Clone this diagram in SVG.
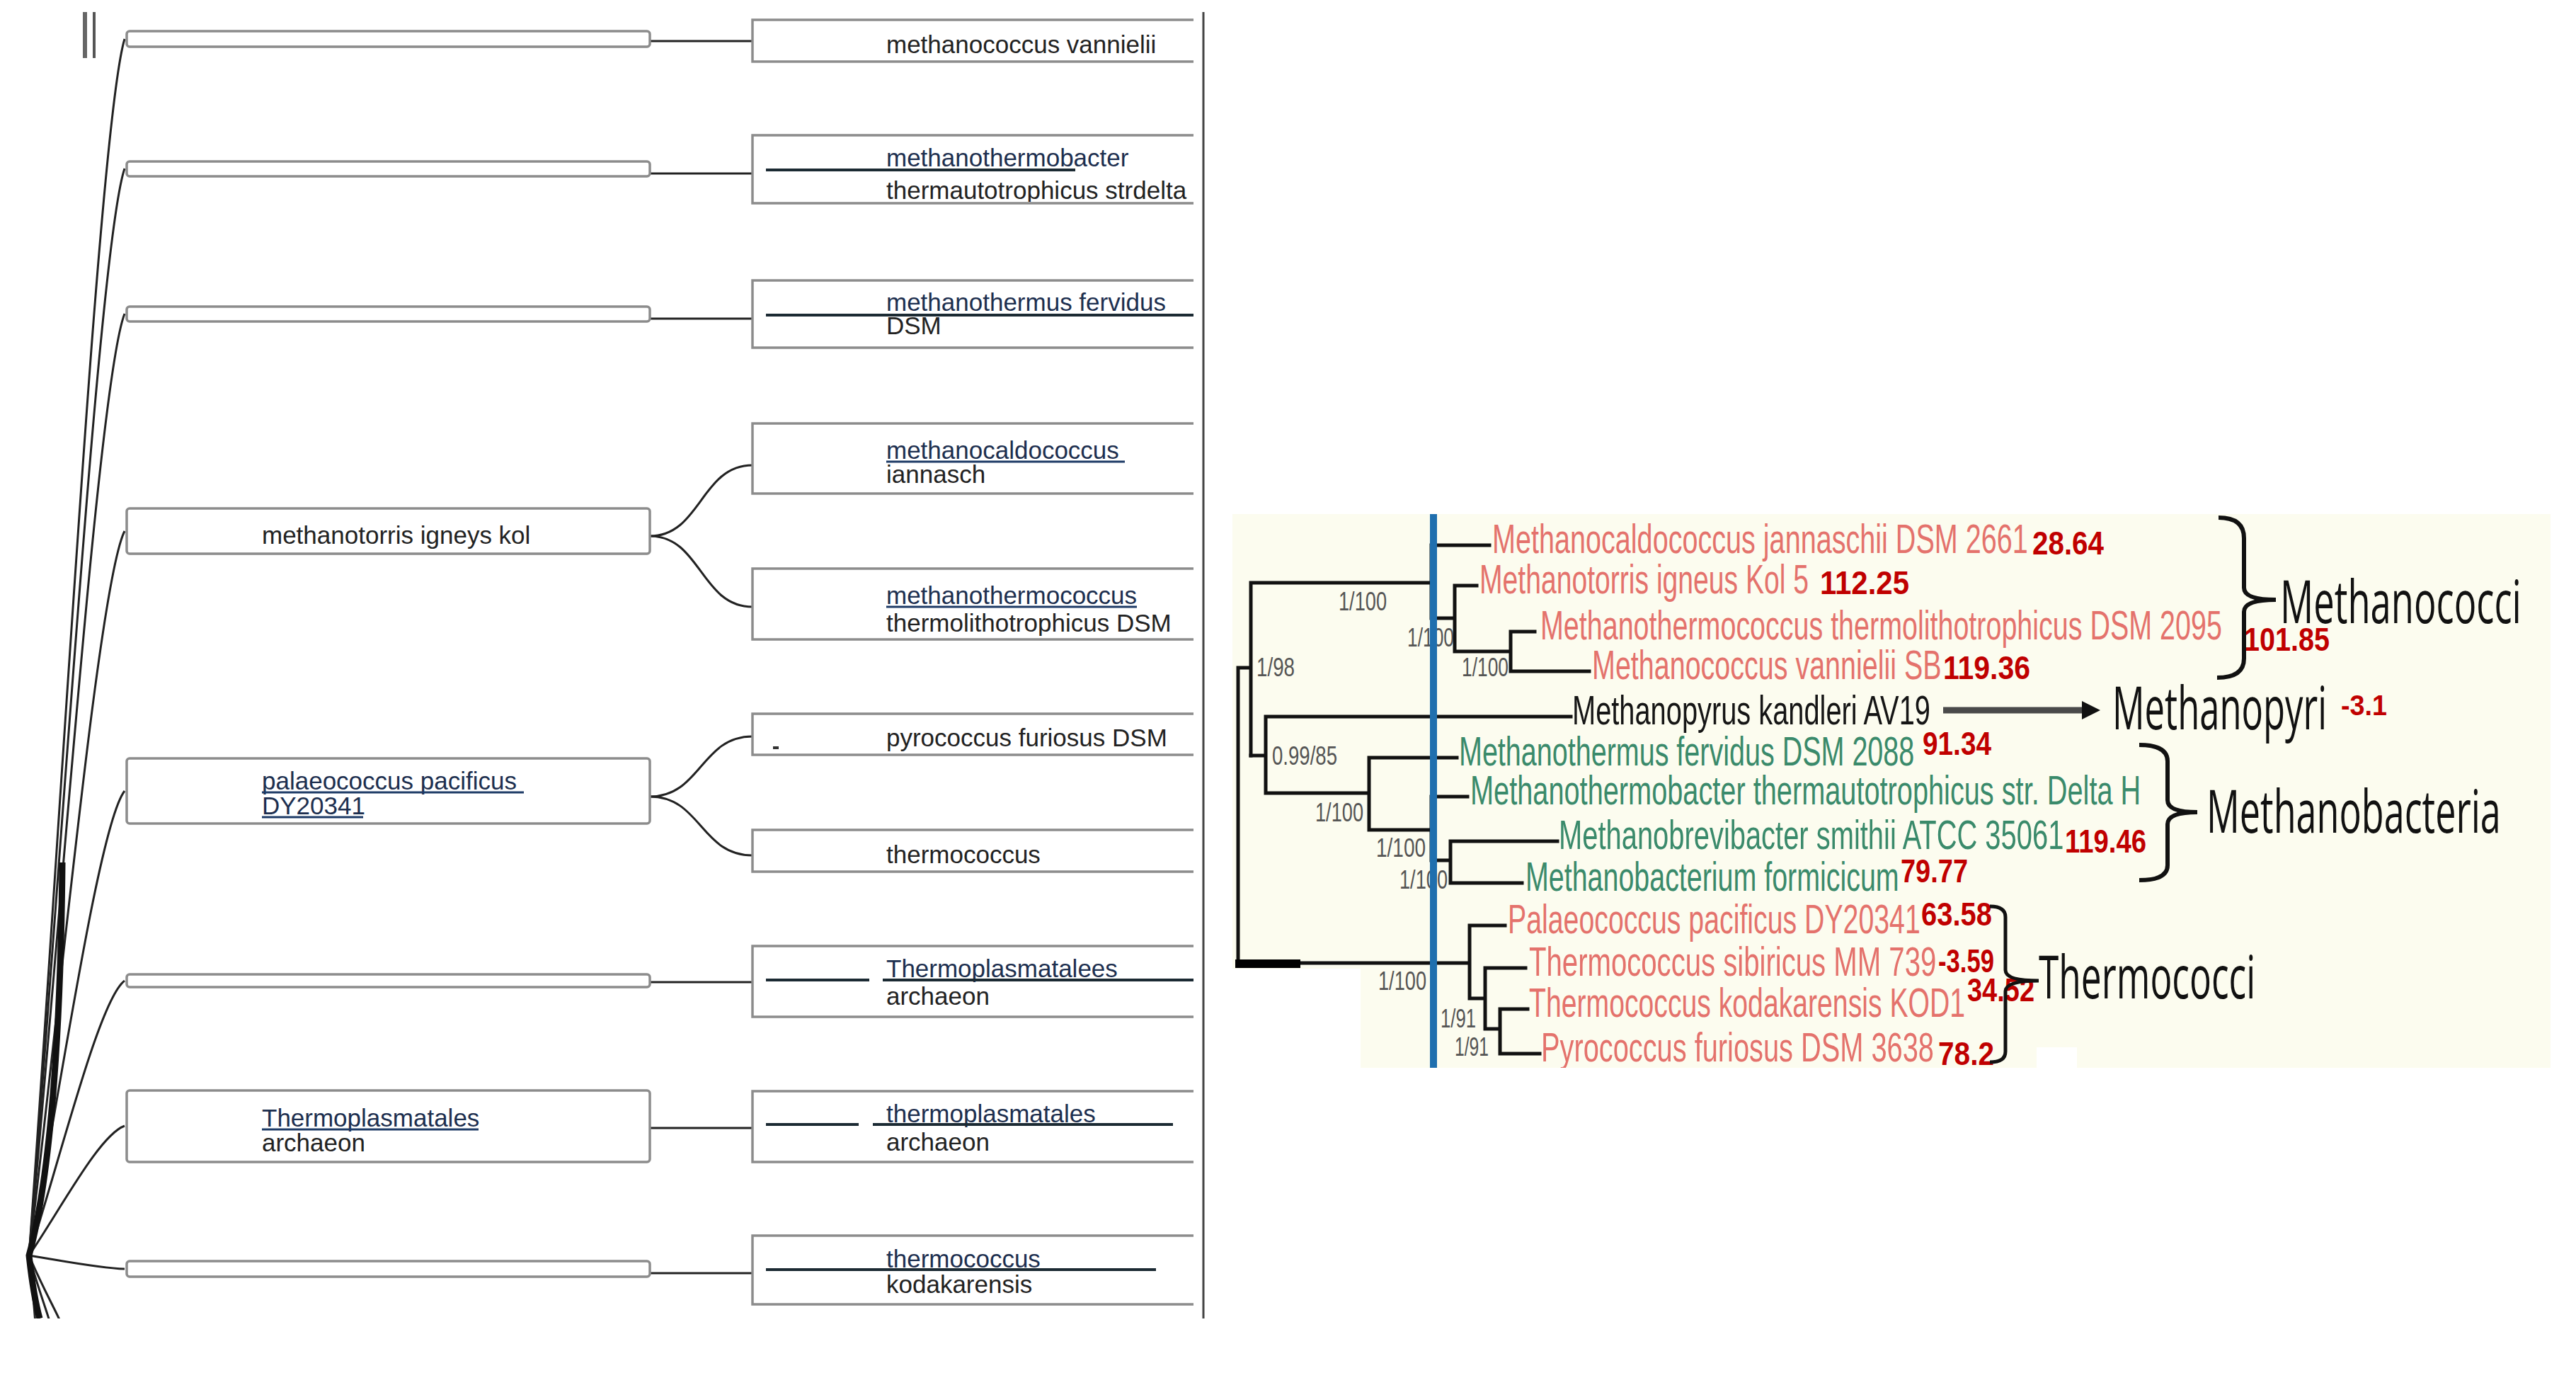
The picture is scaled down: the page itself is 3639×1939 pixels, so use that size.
<svg xmlns="http://www.w3.org/2000/svg" width="3639" height="1939" viewBox="0 0 3639 1939">
<defs>
<style>
.lbox{fill:#fff;stroke:#8c8c8c;stroke-width:3.5}
.rbox{fill:#fff;stroke:#8c8c8c;stroke-width:3.5}
.t{font-family:"Liberation Sans",Arial,sans-serif;font-size:35px;fill:#222}
.tu{font-family:"Liberation Sans",Arial,sans-serif;font-size:35px;fill:#1d2f4f}
.ul{stroke:#1d3a66;stroke-width:3}
.bar{stroke:#1b2a33;stroke-width:4}
.lnk{fill:none;stroke:#222;stroke-width:3}
.br{fill:none;stroke:#111;stroke-width:5;stroke-linecap:square}
.sp{font-family:"Liberation Sans",Arial,sans-serif;font-size:58px}
.red{fill:#e4726c}
.grn{fill:#3a8a6b}
.blk{fill:#151515}
.num{font-family:"Liberation Sans",Arial,sans-serif;font-weight:bold;font-size:46px;fill:#c00000}
.sup{font-family:"Liberation Sans",Arial,sans-serif;font-size:36px;fill:#555}
.grp{font-family:"Open Sans","Noto Sans",sans-serif;font-size:84px;fill:#111}
.brk{fill:none;stroke:#111;stroke-width:6}
</style>
<clipPath id="cR2"><rect x="1063" y="190" width="623" height="95"/></clipPath>
<clipPath id="cR5"><rect x="1063" y="803" width="623" height="95"/></clipPath>
<clipPath id="cLeft"><rect x="0" y="0" width="1710" height="1862"/></clipPath>
<clipPath id="cPanel"><rect x="1741" y="726" width="1862" height="782"/></clipPath>
<marker id="ah" markerWidth="26" markerHeight="26" refX="4" refY="13" orient="auto" markerUnits="userSpaceOnUse" viewBox="0 0 26 26"><path d="M0 0 L26 13 L0 26 Z" fill="#111"/></marker>
</defs>
<rect width="3639" height="1939" fill="#fff"/>

<!-- LEFT PANEL -->
<g id="left-panel">
<line x1="120" y1="17" x2="120" y2="82" stroke="#666" stroke-width="6"/>
<line x1="133" y1="17" x2="133" y2="82" stroke="#555" stroke-width="4"/>
<line x1="1700" y1="17" x2="1700" y2="1862" stroke="#444" stroke-width="3"/>
</g>

<g id="connectors" clip-path="url(#cLeft)">
<path class="lnk" d="M41 1773 C85 1172,140 175,176 55"/>
<path class="lnk" d="M41 1773 C85 1236,140 345,176 238"/>
<path class="lnk" d="M41 1773 C85 1307,140 536,176 443"/>
<path class="lnk" d="M41 1773 C85 1415,140 822,176 750"/>
<path class="lnk" d="M41 1773 C85 1543,140 1163,176 1117"/>
<path class="lnk" d="M41 1773 C85 1637,140 1412,176 1385"/>
<path class="lnk" d="M41 1773 C85 1709,140 1603,176 1590"/>
<path class="lnk" d="M41 1773 C85 1780,140 1791,176 1792"/>
<path class="lnk" d="M41 1773 C46 1820,50 1860,52 1900"/>
<path class="lnk" d="M41 1773 C55 1825,70 1860,80 1900"/>
<path class="lnk" d="M41 1773 C65 1830,85 1860,100 1900"/>
<path fill="none" stroke="#111" stroke-width="9" d="M88 1218 C86 1450,72 1660,41 1773 C45 1810,50 1840,56 1862"/>
<line class="lnk" x1="918" y1="58" x2="1063" y2="58"/>
<line class="lnk" x1="918" y1="245" x2="1063" y2="245"/>
<line class="lnk" x1="918" y1="450" x2="1063" y2="450"/>
<path class="lnk" d="M918 757 C990 757,990 657,1063 657"/>
<path class="lnk" d="M918 757 C990 757,990 857,1063 857"/>
<path class="lnk" d="M918 1125 C990 1125,990 1040,1063 1040"/>
<path class="lnk" d="M918 1125 C990 1125,990 1208,1063 1208"/>
<line class="lnk" x1="918" y1="1387" x2="1063" y2="1387"/>
<line class="lnk" x1="918" y1="1593" x2="1063" y2="1593"/>
<line class="lnk" x1="918" y1="1798" x2="1063" y2="1798"/>
</g>

<g id="L1"><rect class="lbox" x="179" y="44" width="739" height="22" rx="4"/></g>
<g id="L2"><rect class="lbox" x="179" y="228" width="739" height="21" rx="4"/></g>
<g id="L3"><rect class="lbox" x="179" y="433" width="739" height="21" rx="4"/></g>
<g id="L4"><rect class="lbox" x="179" y="718" width="739" height="64" rx="4"/>
<text class="t" x="370" y="768">methanotorris igneys kol</text></g>
<g id="L5"><rect class="lbox" x="179" y="1071" width="739" height="92" rx="4"/>
<text class="tu" x="370" y="1115">palaeococcus pacificus</text>
<text class="tu" x="370" y="1150">DY20341</text>
<line class="ul" x1="370" y1="1119" x2="740" y2="1119"/>
<line class="ul" x1="370" y1="1154" x2="513" y2="1154"/></g>
<g id="L6"><rect class="lbox" x="179" y="1376" width="739" height="18" rx="4"/></g>
<g id="L7"><rect class="lbox" x="179" y="1540" width="739" height="101" rx="4"/>
<text class="tu" x="370" y="1591">Thermoplasmatales</text>
<text class="t" x="370" y="1626">archaeon</text>
<line class="ul" x1="370" y1="1595" x2="676" y2="1595"/></g>
<g id="L8"><rect class="lbox" x="179" y="1781" width="739" height="22" rx="4"/></g>

<g id="R1"><path class="rbox" d="M1686 28 H1063 V87 H1686"/>
<text class="t" x="1252" y="75">methanococcus vannielii</text></g>
<g id="R2"><path class="rbox" d="M1686 191 H1063 V287 H1686"/>
<text class="tu" x="1252" y="235">methanothermobacter</text>
<text class="t" x="1252" y="281" clip-path="url(#cR2)">thermautotrophicus strdelta</text>
<line class="bar" x1="1082" y1="240" x2="1519" y2="240"/></g>
<g id="R3"><path class="rbox" d="M1686 396 H1063 V491 H1686"/>
<text class="tu" x="1252" y="439">methanothermus fervidus</text>
<text class="t" x="1252" y="472">DSM</text>
<line class="bar" x1="1082" y1="445" x2="1686" y2="445" stroke="#1b3a3a"/></g>
<g id="R4"><path class="rbox" d="M1686 598 H1063 V697 H1686"/>
<text class="tu" x="1252" y="648">methanocaldococcus</text>
<text class="t" x="1252" y="682">iannasch</text>
<line class="ul" x1="1252" y1="652" x2="1589" y2="652"/></g>
<g id="R5"><path class="rbox" d="M1686 803 H1063 V903 H1686"/>
<text class="tu" x="1252" y="853">methanothermococcus</text>
<text class="t" x="1252" y="892" clip-path="url(#cR5)">thermolithotrophicus DSM</text>
<line class="ul" x1="1252" y1="857" x2="1606" y2="857"/></g>
<g id="R6"><path class="rbox" d="M1686 1008 H1063 V1066 H1686"/>
<text class="t" x="1252" y="1054">pyrococcus furiosus DSM</text>
<line x1="1092" y1="1056" x2="1100" y2="1056" stroke="#333" stroke-width="4"/></g>
<g id="R7"><path class="rbox" d="M1686 1172 H1063 V1231 H1686"/>
<text class="t" x="1252" y="1219">thermococcus</text></g>
<g id="R8"><path class="rbox" d="M1686 1336 H1063 V1436 H1686"/>
<text class="tu" x="1252" y="1380">Thermoplasmatalees</text>
<text class="t" x="1252" y="1419">archaeon</text>
<line class="bar" x1="1082" y1="1384" x2="1228" y2="1384"/>
<line class="bar" x1="1247" y1="1384" x2="1686" y2="1384"/></g>
<g id="R9"><path class="rbox" d="M1686 1541 H1063 V1641 H1686"/>
<text class="tu" x="1252" y="1585">thermoplasmatales</text>
<text class="t" x="1252" y="1625">archaeon</text>
<line class="bar" x1="1082" y1="1588" x2="1213" y2="1588"/>
<line class="bar" x1="1233" y1="1588" x2="1657" y2="1588"/></g>
<g id="R10"><path class="rbox" d="M1686 1745 H1063 V1842 H1686"/>
<text class="tu" x="1252" y="1790">thermococcus</text>
<text class="t" x="1252" y="1826">kodakarensis</text>
<line class="bar" x1="1082" y1="1793" x2="1633" y2="1793"/></g>

<!-- RIGHT PANEL: phylogenetic tree -->
<g id="tree-panel">
<rect x="1741" y="726" width="1862" height="782" fill="#fcfcef"/>
<rect x="1741" y="1368" width="181" height="145" fill="#fff"/>
<rect x="2877" y="1479" width="57" height="34" fill="#fff"/>
</g>

<g id="support-labels">
<text class="sup" x="1891" y="862" textLength="68" lengthAdjust="spacingAndGlyphs">1/100</text>
<text class="sup" x="1775" y="955" textLength="54" lengthAdjust="spacingAndGlyphs">1/98</text>
<text class="sup" x="1988" y="913" textLength="66" lengthAdjust="spacingAndGlyphs">1/100</text>
<text class="sup" x="2065" y="955" textLength="66" lengthAdjust="spacingAndGlyphs">1/100</text>
<text class="sup" x="1797" y="1080" textLength="92" lengthAdjust="spacingAndGlyphs">0.99/85</text>
<text class="sup" x="1858" y="1160" textLength="68" lengthAdjust="spacingAndGlyphs">1/100</text>
<text class="sup" x="1944" y="1210" textLength="70" lengthAdjust="spacingAndGlyphs">1/100</text>
<text class="sup" x="1977" y="1255" textLength="68" lengthAdjust="spacingAndGlyphs">1/100</text>
<text class="sup" x="1947" y="1398" textLength="68" lengthAdjust="spacingAndGlyphs">1/100</text>
<text class="sup" x="2035" y="1451" textLength="50" lengthAdjust="spacingAndGlyphs">1/91</text>
<text class="sup" x="2055" y="1491" textLength="48" lengthAdjust="spacingAndGlyphs">1/91</text>
</g>

<g id="tree-branches">
<path class="br" d="M1749 943 V1360 M1749 943 H1767 M1767 823 V1067 M1767 823 H2022"/>
<path class="br" d="M2022 770 V873 M2022 770 H2104 M2022 873 H2055 M2055 827 V920 M2055 827 H2086 M2055 920 H2134 M2134 892 V948 M2134 892 H2168 M2134 948 H2245"/>
<path class="br" d="M1767 1067 H1788 M1788 1012 V1120 M1788 1012 H2219 M1788 1120 H1934 M1934 1070 V1172 M1934 1070 H2058 M1934 1172 H2022"/>
<path class="br" d="M2022 1125 V1215 M2022 1125 H2073 M2022 1215 H2049 M2049 1188 V1247 M2049 1188 H2200 M2049 1247 H2150"/>
<path class="br" d="M1749 1360 H2076 M2076 1307 V1410 M2076 1307 H2126 M2076 1410 H2098 M2098 1367 V1453 M2098 1367 H2155 M2098 1453 H2119 M2119 1425 V1488 M2119 1425 H2158 M2119 1488 H2175"/>
<rect x="1745" y="1355" width="92" height="12" fill="#000"/>
<line x1="2025" y1="726" x2="2025" y2="1508" stroke="#1f6fae" stroke-width="10"/>
</g>

<g id="species" clip-path="url(#cPanel)">
<text class="sp red" transform="translate(2108 781) scale(0.68 1)" textLength="1113" lengthAdjust="spacingAndGlyphs">Methanocaldococcus jannaschii DSM 2661</text>
<text class="sp red" transform="translate(2090 838) scale(0.68 1)" textLength="684" lengthAdjust="spacingAndGlyphs">Methanotorris igneus Kol 5</text>
<text class="sp red" transform="translate(2176 903) scale(0.68 1)" textLength="1416" lengthAdjust="spacingAndGlyphs">Methanothermococcus thermolithotrophicus DSM 2095</text>
<text class="sp red" transform="translate(2249 959) scale(0.68 1)" textLength="726" lengthAdjust="spacingAndGlyphs">Methanococcus vannielii SB</text>
<text class="sp blk" transform="translate(2221 1023) scale(0.68 1)" textLength="744" lengthAdjust="spacingAndGlyphs">Methanopyrus kandleri AV19</text>
<text class="sp grn" transform="translate(2061 1081) scale(0.68 1)" textLength="946" lengthAdjust="spacingAndGlyphs">Methanothermus fervidus DSM 2088</text>
<text class="sp grn" transform="translate(2077 1136) scale(0.68 1)" textLength="1393" lengthAdjust="spacingAndGlyphs">Methanothermobacter thermautotrophicus str. Delta H</text>
<text class="sp grn" transform="translate(2202 1199) scale(0.68 1)" textLength="1049" lengthAdjust="spacingAndGlyphs">Methanobrevibacter smithii ATCC 35061</text>
<text class="sp grn" transform="translate(2155 1258) scale(0.68 1)" textLength="776" lengthAdjust="spacingAndGlyphs">Methanobacterium formicicum</text>
<text class="sp red" transform="translate(2130 1318) scale(0.68 1)" textLength="857" lengthAdjust="spacingAndGlyphs">Palaeococcus pacificus DY20341</text>
<text class="sp red" transform="translate(2160 1378) scale(0.68 1)" textLength="846" lengthAdjust="spacingAndGlyphs">Thermococcus sibiricus MM 739</text>
<text class="sp red" transform="translate(2160 1436) scale(0.68 1)" textLength="906" lengthAdjust="spacingAndGlyphs">Thermococcus kodakarensis KOD1</text>
<text class="sp red" transform="translate(2177 1499) scale(0.68 1)" textLength="816" lengthAdjust="spacingAndGlyphs">Pyrococcus furiosus DSM 3638</text>
</g>

<g id="values">
<text class="num" x="2871" y="783" textLength="101" lengthAdjust="spacingAndGlyphs">28.64</text>
<text class="num" x="2571" y="839" textLength="126" lengthAdjust="spacingAndGlyphs">112.25</text>
<text class="num" x="2745" y="959" textLength="123" lengthAdjust="spacingAndGlyphs">119.36</text>
<text class="num" x="3170" y="919" textLength="121" lengthAdjust="spacingAndGlyphs">101.85</text>
<text class="num" x="3307" y="1010" textLength="65" lengthAdjust="spacingAndGlyphs" style="font-size:40px">-3.1</text>
<text class="num" x="2716" y="1066" textLength="97" lengthAdjust="spacingAndGlyphs">91.34</text>
<text class="num" x="2917" y="1204" textLength="115" lengthAdjust="spacingAndGlyphs">119.46</text>
<text class="num" x="2685" y="1246" textLength="95" lengthAdjust="spacingAndGlyphs">79.77</text>
<text class="num" x="2714" y="1307" textLength="100" lengthAdjust="spacingAndGlyphs">63.58</text>
<text class="num" x="2738" y="1373" textLength="79" lengthAdjust="spacingAndGlyphs">-3.59</text>
<text class="num" x="2779" y="1414" textLength="95" lengthAdjust="spacingAndGlyphs">34.52</text>
<text class="num" x="2738" y="1504" textLength="79" lengthAdjust="spacingAndGlyphs">78.2</text>
</g>

<g id="group-Methanococci">
<path class="brk" d="M3134 731 Q3170 731 3170 760 V830 Q3170 847 3215 847 Q3170 847 3170 864 V930 Q3170 957 3132 957"/>
<text class="grp" transform="translate(3221 880) scale(0.63 1)" x="0" y="0" textLength="541" lengthAdjust="spacingAndGlyphs">Methanococci</text>
</g>
<g id="group-Methanopyri">
<line x1="2745" y1="1003" x2="2945" y2="1003" stroke="#4a4a4a" stroke-width="9" marker-end="url(#ah)"/>
<text class="grp" transform="translate(2984 1030) scale(0.63 1)" x="0" y="0" textLength="481" lengthAdjust="spacingAndGlyphs">Methanopyri</text>
</g>
<g id="group-Methanobacteria">
<path class="brk" d="M3022 1052 Q3062 1052 3062 1075 V1130 Q3062 1147 3104 1147 Q3062 1147 3062 1164 V1222 Q3062 1243 3022 1243"/>
<text class="grp" transform="translate(3117 1176) scale(0.63 1)" x="0" y="0" textLength="660" lengthAdjust="spacingAndGlyphs">Methanobacteria</text>
</g>
<g id="group-Thermococci">
<path class="brk" style="stroke-width:5" d="M2811 1280 Q2833 1280 2833 1295 V1370 Q2833 1385 2880 1385 Q2833 1385 2833 1400 V1485 Q2833 1500 2811 1500"/>
<text class="grp" transform="translate(2880 1410) scale(0.63 1)" x="0" y="0" textLength="486" lengthAdjust="spacingAndGlyphs">Thermococci</text>
</g>
</svg>
